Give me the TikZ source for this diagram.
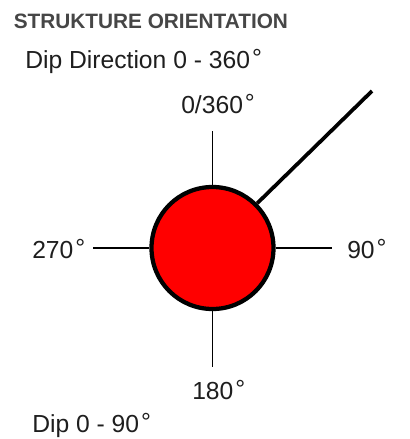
\documentclass[tikz,border=0pt]{standalone}
\usepackage{fontspec}
\setmainfont{Liberation Sans}
\usepackage{xcolor}
\usepackage{tikz}
\definecolor{so-red}{RGB}{255, 0, 0}
\definecolor{so-title}{RGB}{70, 70, 70}
\definecolor{so-text}{RGB}{30, 30, 30}
\newcommand{\dg}{\kern1.5pt\raisebox{1pt}{°}}

\begin{document}
\begin{tikzpicture}[x=0.75pt, y=-0.75pt, font=\fontsize{18.5}{20}\selectfont, text=so-text]
    \useasboundingbox (0,0) rectangle (410,439);
    \node[circle, minimum size=122*0.75pt, inner sep=0pt, fill=so-red, draw=black, line width=3.2pt] (ball) at (212.5,248) {};

    \node[anchor=base west, inner sep=0pt, font=\bfseries\fontsize{15.6}{17}\selectfont, text=so-title] (title) at (13.5,28) {STRUKTURE ORIENTATION};
    \node[anchor=base west, inner sep=0pt] (dipdir) at (25,68) {Dip Direction 0 - 360\dg};
    \node[anchor=base west, inner sep=0pt] (north) at (181,113) {0/360\dg};
    \node[anchor=base west, inner sep=0pt] (west) at (32,258) {270\dg};
    \node[anchor=base west, inner sep=0pt] (east) at (347,258) {90\dg};
    \node[anchor=base west, inner sep=0pt] (south) at (192,399) {180\dg};
    \node[anchor=base west, inner sep=0pt] (dip) at (32,432) {Dip 0 - 90\dg};

    \coordinate (n-end) at (212.5,131);
    \coordinate (s-end) at (212.5,367);
    \coordinate (w-end) at (93,248);
    \coordinate (e-end) at (332,248);
    \coordinate (dip-end) at (372,91);

    % compass ticks
    \draw[line width=1.1pt] (n-end) -- (ball.north);
    \draw[line width=1.1pt] (ball.south) -- (s-end);
    \draw[line width=1.1pt] (w-end) -- (ball.west);
    \draw[line width=1.1pt] (ball.east) -- (e-end);
    % dip direction
    \draw[line width=2.8pt] (ball.45) -- (dip-end);
\end{tikzpicture}
\end{document}
